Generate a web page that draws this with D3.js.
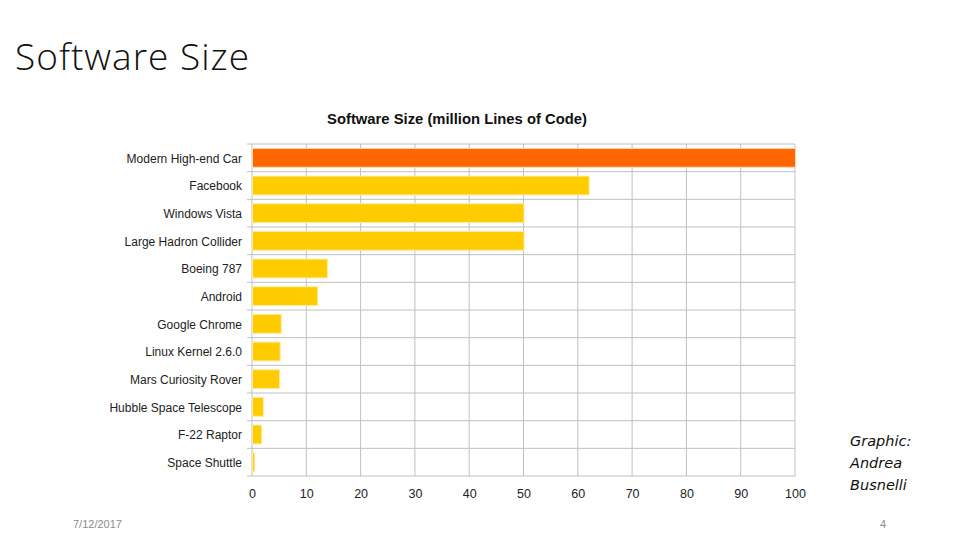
<!DOCTYPE html>
<html>
<head>
<meta charset="utf-8">
<script src="https://cdn.jsdelivr.net/npm/d3@7"></script>
<style>
  body { margin: 0; background: #fff; }
  svg { display: block; }
</style>
</head>
<body>
<div id="chart"></div>
<script>
'use strict';

// data
var categories = ["Modern High-end Car", "Facebook", "Windows Vista", "Large Hadron Collider",
                  "Boeing 787", "Android", "Google Chrome", "Linux Kernel 2.6.0",
                  "Mars Curiosity Rover", "Hubble Space Telescope", "F-22 Raptor", "Space Shuttle"];
var linesOfCode = [100, 62, 50, 50, 13.8, 12, 5.3, 5.1, 5, 2, 1.7, 0.4];
var xTicks = [0, 10, 20, 30, 40, 50, 60, 70, 80, 90, 100];

var data = categories.map(function(c, i) { return {name: c, value: linesOfCode[i]}; });

var width = 960, height = 540;
var margin = {top: 144, left: 252, right: 165, bottom: 64};
var innerW = width - margin.left - margin.right,
    innerH = height - margin.top - margin.bottom;

var svg = d3.select("#chart").append("svg")
    .attr("width", width)
    .attr("height", height);

// slide title
svg.append("text")
    .attr("x", 15).attr("y", 70)
    .attr("font-family", "'Open Sans', 'Noto Sans', sans-serif")
    .attr("font-weight", 300)
    .attr("font-size", 37)
    .attr("letter-spacing", 1)
    .attr("fill", "#111")
    .text("Software Size");

// chart title
svg.append("text")
    .attr("x", 457).attr("y", 124)
    .attr("text-anchor", "middle")
    .attr("font-family", "'Liberation Sans', Arial, sans-serif")
    .attr("font-weight", "bold")
    .attr("font-size", 14.8)
    .attr("fill", "#111")
    .text("Software Size (million Lines of Code)");

var g = svg.append("g")
    .attr("transform", "translate(" + margin.left + "," + margin.top + ")");

var x = d3.scaleLinear().domain([0, 100]).range([0, innerW]);
var y = d3.scaleBand().domain(categories).range([0, innerH]).paddingInner(0.32).paddingOuter(0.16);
var rows = d3.scaleBand().domain(categories).range([0, innerH]);

// vertical gridlines
g.append("g")
    .selectAll("line")
    .data(xTicks)
    .join("line")
    .attr("x1", function(d) { return x(d); })
    .attr("x2", function(d) { return x(d); })
    .attr("y1", 0).attr("y2", innerH)
    .attr("stroke", "#c0c0c0");

// horizontal row lines with small tick to the left
var rowEdges = [0].concat(categories.map(function(c) { return rows(c) + rows.bandwidth(); }));
g.append("g")
    .selectAll("line")
    .data(rowEdges)
    .join("line")
    .attr("x1", -5).attr("x2", innerW)
    .attr("y1", function(d) { return d; })
    .attr("y2", function(d) { return d; })
    .attr("stroke", "#c0c0c0");

// bars
g.append("g")
    .selectAll("rect")
    .data(data)
    .join("rect")
    .attr("x", x(0) + 0.5)
    .attr("y", function(d) { return y(d.name); })
    .attr("width", function(d) { return x(d.value) - x(0); })
    .attr("height", y.bandwidth())
    .attr("fill", function(d, i) { return i === 0 ? "#ff6600" : "#ffcc00"; })
    .attr("stroke", function(d, i) { return i === 0 ? "#ffd9b0" : "#ffeaa0"; })
    .attr("stroke-width", 1);

// category labels
var yAxis = g.append("g")
    .attr("transform", "translate(0,1)")
    .call(d3.axisLeft(rows).tickSize(0).tickPadding(10));
yAxis.select(".domain").remove();
yAxis.selectAll("text")
    .attr("font-family", "'Liberation Sans', Arial, sans-serif")
    .attr("font-size", 12)
    .attr("fill", "#222");

// x axis labels
var xAxis = g.append("g")
    .attr("transform", "translate(0," + innerH + ")")
    .call(d3.axisBottom(x).tickValues(xTicks).tickSize(0).tickPadding(13));
xAxis.select(".domain").remove();
xAxis.selectAll("text")
    .attr("font-family", "'Liberation Sans', Arial, sans-serif")
    .attr("font-size", 12.5)
    .attr("fill", "#222");

// credit
var credit = svg.append("text")
    .attr("x", 850).attr("y", 446)
    .attr("font-family", "'DejaVu Sans', sans-serif")
    .attr("font-style", "italic")
    .attr("font-size", 14.5)
    .attr("fill", "#111");
["Graphic:", "Andrea", "Busnelli"].forEach(function(t, i) {
    credit.append("tspan").attr("x", 850).attr("dy", i === 0 ? 0 : 22).text(t);
});

// footer
svg.append("text")
    .attr("x", 73).attr("y", 528)
    .attr("font-family", "'Liberation Sans', Arial, sans-serif")
    .attr("font-size", 11)
    .attr("fill", "#8c8c8c")
    .text("7/12/2017");
svg.append("text")
    .attr("x", 883).attr("y", 528)
    .attr("text-anchor", "middle")
    .attr("font-family", "'Liberation Sans', Arial, sans-serif")
    .attr("font-size", 11)
    .attr("fill", "#8c8c8c")
    .text("4");
</script>
</body>
</html>
